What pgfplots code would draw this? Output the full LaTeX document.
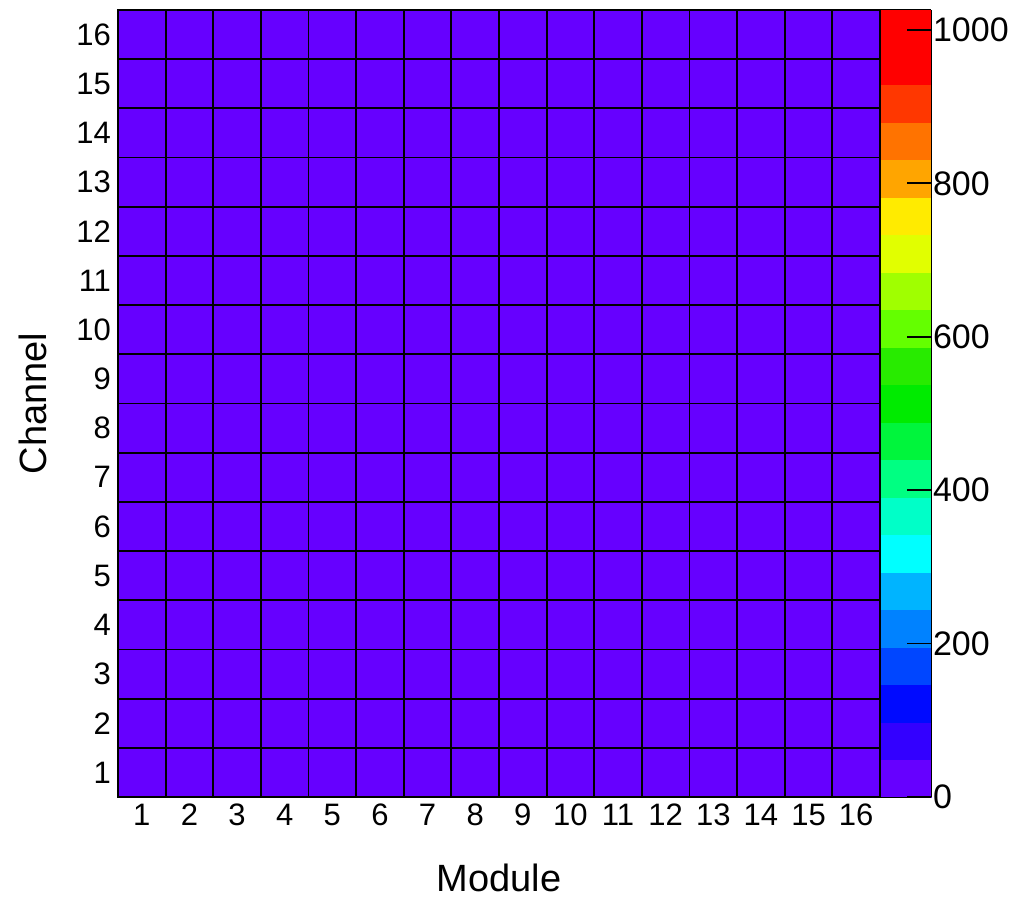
\documentclass[border=0pt]{standalone}
\usepackage{pgfplots}
\pgfplotsset{compat=1.18}
\usepackage{fontspec}
\setmainfont{Liberation Sans}

% 16 x 16 counts per module (x) and channel (y)
\newcommand{\row}[1]{%
  (1,#1) [0] (2,#1) [0] (3,#1) [0] (4,#1) [0] (5,#1) [0] (6,#1) [0] (7,#1) [0] (8,#1) [0]
  (9,#1) [0] (10,#1) [0] (11,#1) [0] (12,#1) [0] (13,#1) [0] (14,#1) [0] (15,#1) [0] (16,#1) [0]}

\begin{document}
\begin{tikzpicture}
\begin{axis}[
  at={(0,0)}, anchor=south west,
  scale only axis,
  width=381pt, height=393.5pt,
  xmin=0.5, xmax=16.5, ymin=0.5, ymax=16.5,
  xtick={1,...,16}, ytick={1,...,16},
  minor xtick={1.5,2.5,...,15.5}, minor ytick={1.5,2.5,...,15.5},
  minor grid style={black, line width=0.9pt},
  xminorgrids, yminorgrids,
  axis on top,
  major tick length=0pt, minor tick length=0pt,
  tick label style={font=\fontsize{15.5}{17}\selectfont},
  /pgf/number format/assume math mode=true,
  xlabel={Module}, ylabel={Channel},
  label style={font=\fontsize{19}{22}\selectfont},
  xlabel style={yshift=-12pt},
  ylabel style={yshift=8pt},
  axis line style={line width=0.9pt},
  colormap={rootpal}{
    rgb255=(102,0,255) rgb255=(51,0,255) rgb255=(0,10,255) rgb255=(0,70,255)
    rgb255=(0,130,255) rgb255=(0,180,255) rgb255=(0,255,255) rgb255=(0,255,200)
    rgb255=(0,255,130) rgb255=(0,245,60) rgb255=(0,235,0) rgb255=(40,235,0)
    rgb255=(100,255,0) rgb255=(160,255,0) rgb255=(225,255,0) rgb255=(255,235,0)
    rgb255=(255,165,0) rgb255=(255,115,0) rgb255=(255,55,0) rgb255=(255,0,0)
    rgb255=(255,0,0)},
  colormap access=piecewise constant,
  point meta min=0, point meta max=1026,
  colorbar,
  colorbar style={
    at={(1,1)}, anchor=north west, xshift=1.5pt,
    width=25.5pt, height=393.5pt,
    ytick={0,200,...,1000},
    yticklabel pos=right,
    ytick pos=right,
    tick align=inside,
    major tick length=12pt,
    tick style={black, line width=0.9pt},
    axis line style={line width=0.5pt},
    yticklabel style={font=\fontsize{17}{19}\selectfont, xshift=-2.5pt},
    /pgf/number format/assume math mode=true,
    /pgf/number format/1000 sep={},
  },
]
\addplot[matrix plot*, mesh/cols=16, point meta=explicit, draw=none]
  coordinates {
  \row{1}
  \row{2}
  \row{3}
  \row{4}
  \row{5}
  \row{6}
  \row{7}
  \row{8}
  \row{9}
  \row{10}
  \row{11}
  \row{12}
  \row{13}
  \row{14}
  \row{15}
  \row{16}
  };
\end{axis}
\pgfresetboundingbox
\path[use as bounding box] (-59pt,-51pt) rectangle (446.5pt,398.5pt);
\end{tikzpicture}
\end{document}
